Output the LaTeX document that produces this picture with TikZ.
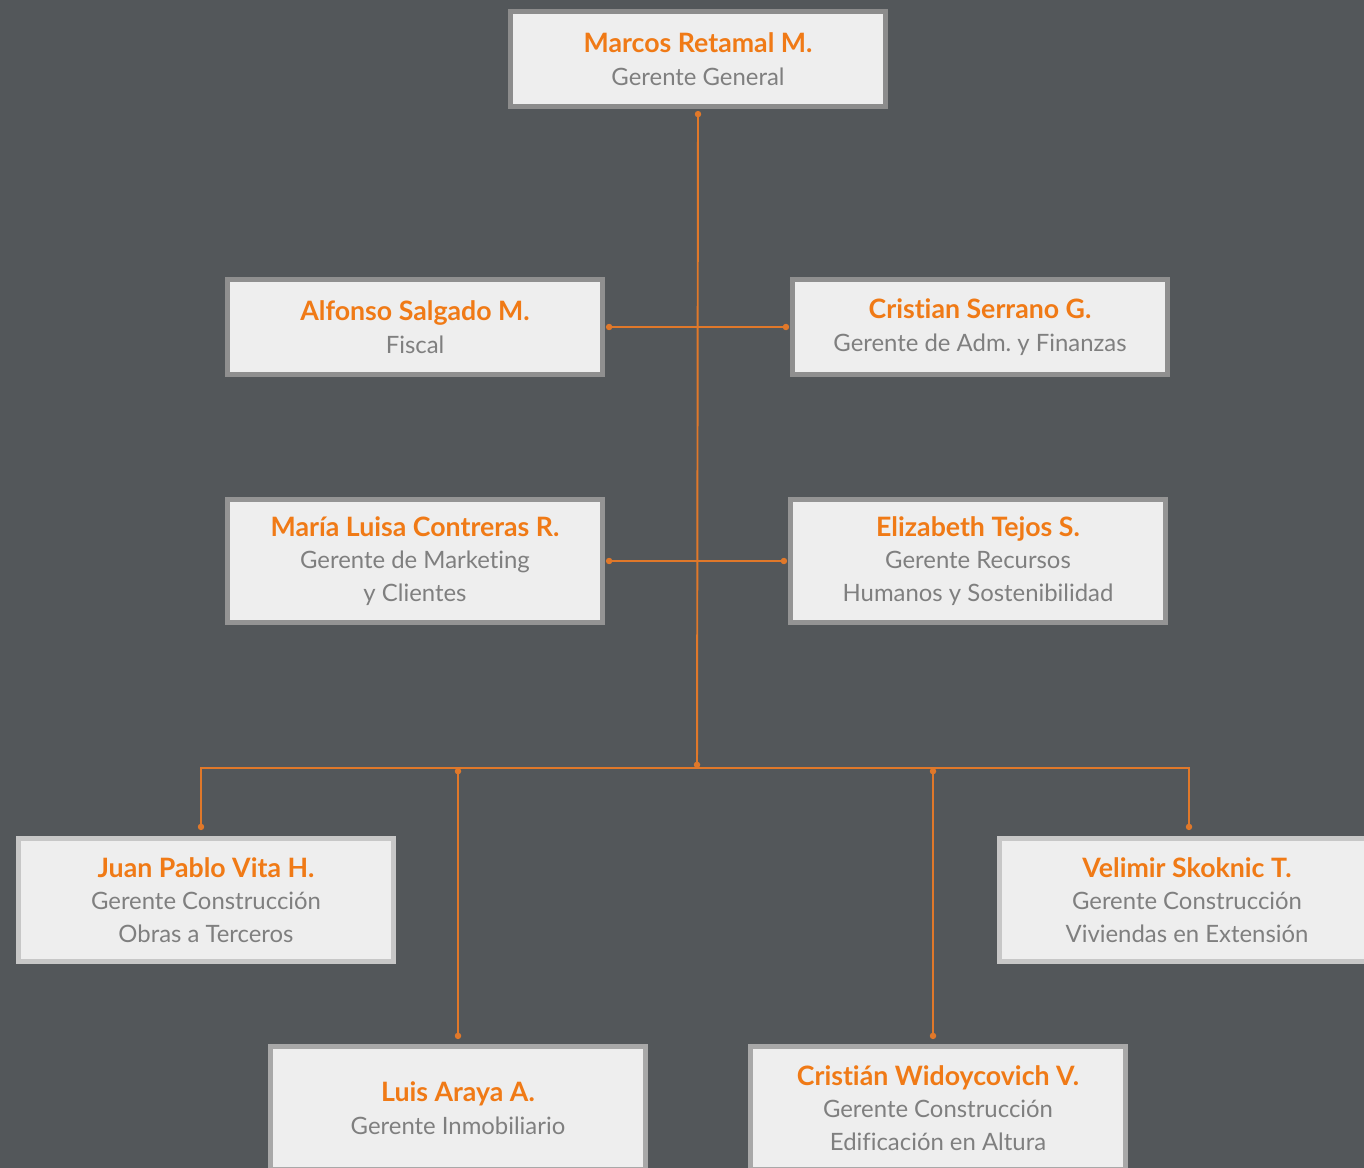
\documentclass[tikz,border=0pt]{standalone}
\usepackage{fontspec}
\setmainfont{Lato}[Ligatures=NoCommon]
\usetikzlibrary{arrows.meta}
\definecolor{bgslate}{HTML}{53575A}
\definecolor{boxfill}{HTML}{EEEEEE}
\definecolor{namecol}{HTML}{F07A16}
\definecolor{linecol}{HTML}{E0782A}
\definecolor{subcol}{HTML}{7F7F7F}
\newcommand{\pname}[1]{{\color{namecol}\fontsize{15.2}{18.5}\selectfont\bfseries #1}}
\frenchspacing

\begin{document}
\begin{tikzpicture}[x=0.02cm, y=-0.02cm, font=\fontsize{13.6}{18.5}\selectfont, every node/.style={align=center}]
\tikzset{
  person/.style={draw=#1, fill=boxfill, line width=2.8pt, text=subcol,
    minimum width=7.5cm, inner sep=0pt},
  person/.default={gray},
  twoline/.style={minimum height=1.9cm},
  threeline/.style={minimum height=2.46cm},
  link/.style={draw=linecol, line width=1.1pt},
  dots/.style={{Circle[length=3.6pt]}-{Circle[length=3.6pt]}}
}
\useasboundingbox (0,0) rectangle (1364,1168);
\clip (0,0) rectangle (1364,1168);
\fill[bgslate] (0,0) rectangle (1364,1168);

\node[person=black!45, twoline] (gerente) at (698,59) {\pname{Marcos Retamal M.}\\Gerente General};

\node[person=black!44, twoline] (fiscal) at (415,327) {\pname{Alfonso Salgado M.}\\Fiscal};
\node[person=black!44, twoline] (finanzas) at (980,327) {\pname{Cristian Serrano G.}\\Gerente de Adm. y Finanzas};

\node[person=black!42, threeline] (marketing) at (415,561) {\pname{María Luisa Contreras R.}\\Gerente de Marketing\\y Clientes};
\node[person=black!42, threeline] (rrhh) at (978,561) {\pname{Elizabeth Tejos S.}\\Gerente Recursos\\Humanos y Sostenibilidad};

\node[person=black!22, threeline] (terceros) at (206,900) {\pname{Juan Pablo Vita H.}\\Gerente Construcción\\Obras a Terceros};
\node[person=black!22, threeline] (viviendas) at (1187,900) {\pname{Velimir Skoknic T.}\\Gerente Construcción\\Viviendas en Extensión};

\node[person=black!34, threeline] (inmobiliario) at (458,1108) {\pname{Luis Araya A.}\\Gerente Inmobiliario};
\node[person=black!34, threeline] (altura) at (938,1108) {\pname{Cristián Widoycovich V.}\\Gerente Construcción\\Edificación en Altura};

\coordinate (hub) at (697,768);

\draw[link, dots] ([yshift=-0.04cm]gerente.south) -- (hub);
\draw[link, dots] ([xshift=0.02cm]fiscal.east) -- ([xshift=-0.02cm]finanzas.west);
\draw[link, dots] ([xshift=0.02cm]marketing.east) -- ([xshift=-0.02cm]rrhh.west);
\draw[link, dots] ([xshift=-0.1cm, yshift=0.12cm]terceros.north) |- (hub) -| ([xshift=0.04cm, yshift=0.12cm]viviendas.north);
\draw[link, dots] (inmobiliario.north |- hub) -- ([yshift=0.1cm]inmobiliario.north);
\draw[link, dots] ([xshift=-0.1cm]altura.north |- hub) -- ([xshift=-0.1cm, yshift=0.1cm]altura.north);
\end{tikzpicture}
\end{document}
